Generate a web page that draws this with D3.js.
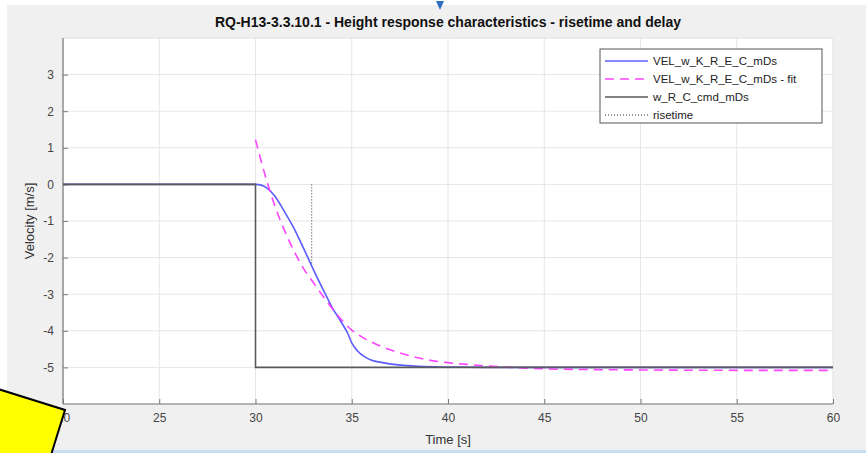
<!DOCTYPE html>
<html>
<head>
<meta charset="utf-8">
<script src="https://cdn.jsdelivr.net/npm/d3@7"></script>
<style>
  body { margin: 0; background: #fff; }
  text { font-family: "Liberation Sans", Arial, sans-serif; }
</style>
</head>
<body>
<div id="chart-area"></div>
<script>
// chart values
const xTicks = [20, 25, 30, 35, 40, 45, 50, 55, 60];
const yTicks = [-5, -4, -3, -2, -1, 0, 1, 2, 3];

const timeMeas = [20, 30, 30.3, 30.6, 31, 31.5, 32, 32.5, 33, 33.5, 34, 34.5, 34.8, 35, 35.3, 35.7, 36, 36.6, 37.4, 38.5, 40, 42, 60];
const velMeas  = [0, 0, -0.02, -0.1, -0.32, -0.74, -1.2, -1.75, -2.32, -2.86, -3.38, -3.8, -4.08, -4.33, -4.55, -4.72, -4.8, -4.87, -4.93, -4.97, -4.99, -5.0, -5.0];

const timeFit = [30, 30.5, 31, 31.5, 32, 32.5, 33, 33.5, 34, 34.5, 35, 35.5, 36, 36.5, 37, 38, 39, 40, 41, 42, 43, 44, 45, 47.5, 50, 55, 60];
const velFit  = [1.22, 0.25, -0.58, -1.25, -1.82, -2.3, -2.68, -3.05, -3.4, -3.72, -3.98, -4.16, -4.3, -4.42, -4.52, -4.68, -4.8, -4.87, -4.92, -4.96, -4.99, -5.02, -5.04, -5.06, -5.07, -5.08, -5.08];

const timeCmd = [20, 30, 30, 60];
const velCmd  = [0, 0, -5, -5];

const timeRise = [32.92, 32.92];
const velRise  = [0, -2.2];

const seriesNames = ["VEL_w_K_R_E_C_mDs", "VEL_w_K_R_E_C_mDs - fit", "w_R_C_cmd_mDs", "risetime"];

const width = 866, height = 453;
const margin = {top: 38, right: 33, bottom: 49, left: 63};

const svg = d3.select('#chart-area').append('svg')
  .attr('width', width).attr('height', height);

// figure background
svg.append('rect').attr('x', 7).attr('y', 5).attr('width', width - 7).attr('height', 445).attr('fill', '#f0f0f0');
svg.append('rect').attr('x', 0).attr('y', 450).attr('width', width).attr('height', 3).attr('fill', '#c9def0');

const x = d3.scaleLinear().domain([20, 60]).range([margin.left, width - margin.right]);
const y = d3.scaleLinear().domain([-6, 4]).range([height - margin.bottom, margin.top]);

// plot area
svg.append('rect')
  .attr('x', x(20)).attr('y', y(4))
  .attr('width', x(60) - x(20)).attr('height', y(-6) - y(4))
  .attr('fill', '#fff').attr('stroke', '#e0e0e0');

// grid
svg.append('g').selectAll('line').data(xTicks.slice(1, -1)).join('line')
  .attr('x1', d => x(d)).attr('x2', d => x(d))
  .attr('y1', y(4)).attr('y2', y(-6))
  .attr('stroke', '#e6e6e6');
svg.append('g').selectAll('line').data(yTicks).join('line')
  .attr('x1', x(20)).attr('x2', x(60))
  .attr('y1', d => y(d)).attr('y2', d => y(d))
  .attr('stroke', '#e6e6e6');

// axes (ticks inside)
const xAxis = svg.append('g')
  .attr('transform', `translate(0,${y(-6)})`)
  .call(d3.axisBottom(x).tickValues(xTicks).tickSize(-5).tickPadding(9).tickFormat(d => String(d)));
const yAxis = svg.append('g')
  .attr('transform', `translate(${x(20)},0)`)
  .call(d3.axisLeft(y).tickValues(yTicks).tickSize(-5).tickPadding(9).tickFormat(d => String(d)));
[xAxis, yAxis].forEach(a => {
  a.select('.domain').attr('stroke', '#7a7a7a').attr('stroke-width', 1.2);
  a.selectAll('.tick line').attr('stroke', '#7a7a7a');
  a.selectAll('.tick text').attr('fill', '#444').attr('font-size', 12)
    .attr('font-family', '"Liberation Sans", Arial, sans-serif');
});
xAxis.select('.domain').attr('d', `M${x(20)},0H${x(60)}`);
yAxis.select('.domain').attr('d', `M0,${y(4)}V${y(-6)}`);

const line = d3.line().x(d => x(d[0])).y(d => y(d[1]));
const smooth = d3.line().x(d => x(d[0])).y(d => y(d[1])).curve(d3.curveMonotoneX);

svg.append('path').datum(d3.zip(timeMeas, velMeas))
  .attr('d', smooth).attr('fill', 'none').attr('stroke', '#5c5cff').attr('stroke-width', 1.6);
svg.append('path').datum(d3.zip(timeFit, velFit))
  .attr('d', smooth).attr('fill', 'none').attr('stroke', '#ff44ff').attr('stroke-width', 1.6)
  .attr('stroke-dasharray', '9,6');
svg.append('path').datum(d3.zip(timeCmd, velCmd))
  .attr('d', line).attr('fill', 'none').attr('stroke', '#5a5a5a').attr('stroke-width', 1.6);
svg.append('path').datum(d3.zip(timeRise, velRise))
  .attr('d', line).attr('fill', 'none').attr('stroke', '#333').attr('stroke-width', 1)
  .attr('stroke-dasharray', '1,2');

// labels
svg.append('text').text('RQ-H13-3.3.10.1 - Height response characteristics - risetime and delay')
  .attr('x', (x(20) + x(60)) / 2).attr('y', 27).attr('text-anchor', 'middle')
  .attr('font-size', 14).attr('font-weight', 'bold').attr('fill', '#111');
svg.append('text').text('Time [s]')
  .attr('x', (x(20) + x(60)) / 2).attr('y', 444).attr('text-anchor', 'middle')
  .attr('font-size', 13).attr('fill', '#333');
svg.append('text').text('Velocity [m/s]')
  .attr('transform', 'rotate(-90)')
  .attr('x', -(y(4) + y(-6)) / 2).attr('y', 34).attr('text-anchor', 'middle')
  .attr('font-size', 13).attr('fill', '#333');

// legend
const legend = svg.append('g').attr('transform', 'translate(600,49)');
legend.append('rect').attr('width', 222).attr('height', 74)
  .attr('fill', '#fff').attr('stroke', '#555').attr('stroke-width', 1);
const legendStyles = [
  {stroke: '#5c5cff', dash: null, w: 1.6},
  {stroke: '#ff44ff', dash: '9,6', w: 1.6},
  {stroke: '#5a5a5a', dash: null, w: 1.6},
  {stroke: '#333', dash: '1,2', w: 1}
];
seriesNames.forEach((name, i) => {
  const yy = 12 + i * 18;
  legend.append('line').attr('x1', 5).attr('x2', 48).attr('y1', yy).attr('y2', yy)
    .attr('stroke', legendStyles[i].stroke).attr('stroke-width', legendStyles[i].w)
    .attr('stroke-dasharray', legendStyles[i].dash);
  legend.append('text').text(name).attr('x', 53).attr('y', yy + 4)
    .attr('font-size', 11.5).attr('fill', '#222');
});

// overlay marks from the screenshot
svg.append('path').attr('d', 'M436,1L444,1L440,10Z').attr('fill', '#2f6fc0');
svg.append('path').attr('d', 'M-2,389L65,410L51,455L-2,455Z')
  .attr('fill', '#ffff00').attr('stroke', '#000').attr('stroke-width', 2);
</script>
</body>
</html>
